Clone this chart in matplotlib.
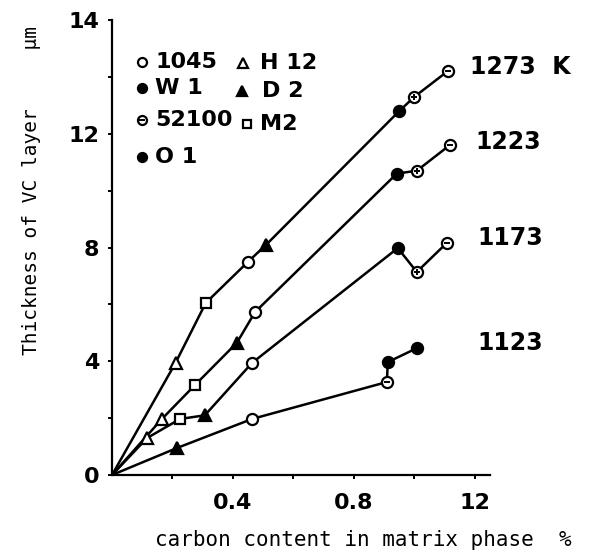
import matplotlib
matplotlib.use("Agg")
import matplotlib.pyplot as plt

# carbon content in matrix phase (%) / thickness of VC layer (um), one list per temperature
steels_1273 = ['H12', 'M2', '1045', 'D2', 'W1', 'O1x', '52100']
x_1273 = [0.21, 0.31, 0.45, 0.51, 0.95, 1.00, 1.11]
y_1273 = [3.94, 6.05, 7.50, 8.10, 12.8, 13.3, 14.2]

steels_1223 = ['H12', 'M2', 'D2', '1045', 'W1', 'O1x', '52100']
x_1223 = [0.165, 0.274, 0.413, 0.473, 0.942, 1.008, 1.117]
y_1223 = [1.97, 3.16, 4.65, 5.73, 10.6, 10.7, 11.6]

steels_1173 = ['H12', 'M2', 'D2', '1045', 'W1', 'O1x', '52100']
x_1173 = [0.116, 0.225, 0.307, 0.463, 0.945, 1.008, 1.107]
y_1173 = [1.30, 1.97, 2.10, 3.94, 7.98, 7.14, 8.16]

steels_1123 = ['D2', '1045', '52100', 'W1', 'O1']
x_1123 = [0.215, 0.463, 0.909, 0.912, 1.010]
y_1123 = [0.95, 1.97, 3.27, 3.97, 4.47]

curves = [('1273  K', steels_1273, x_1273, y_1273),
          ('1223', steels_1223, x_1223, y_1223),
          ('1173', steels_1173, x_1173, y_1173),
          ('1123', steels_1123, x_1123, y_1123)]

legend_rows = [['1045', 'H12'], ['W1', 'D2'], ['52100', 'M2'], ['O1']]
legend_text = {'1045': '1045', 'H12': 'H 12', 'W1': 'W 1', 'D2': 'D 2',
               '52100': '52100', 'M2': 'M2', 'O1': 'O 1'}

# marker style: (marker, face, overlay)
style = {'1045': ('o', 'white', None), 'W1': ('o', 'black', None),
         '52100': ('o', 'white', '_'), 'O1': ('o', 'black', None),
         'O1x': ('o', 'white', '+'), 'H12': ('^', 'white', None),
         'D2': ('^', 'black', None), 'M2': ('s', 'white', None)}

W, H = 589, 554
fig = plt.figure(figsize=(W / 100, H / 100), dpi=100)
L, R, B, T = 112, 490, 475, 20
ax = fig.add_axes([L / W, 1 - B / H, (R - L) / W, (B - T) / H])
ax.set_xlim(0, 1.25)
ax.set_ylim(0, 16.0)


def draw_mark(ax, x, y, kind, ms=8, **kw):
    m, fc, over = style[kind]
    s = ms * 0.95 if m == 's' else ms
    ax.plot([x], [y], marker=m, ms=s, mfc=fc, mec='black', mew=1.6,
            ls='none', zorder=5, clip_on=False, **kw)
    if over:
        ax.plot([x], [y], marker=over, ms=s * 0.6, mec='black', mew=1.4,
                ls='none', zorder=6, clip_on=False, **kw)


for name, steels, xs, ys in curves:
    ax.plot([0] + xs, [0] + ys, color='black', lw=1.8, zorder=3,
            solid_capstyle='round')
    for s, x, y in zip(steels, xs, ys):
        draw_mark(ax, x, y, s)


def px(x, y):
    return (x - L) / (R - L), (B - y) / (B - T)


numfont = dict(family='DejaVu Sans', fontsize=16, fontweight='bold')

# legend
leg_pos = [[(142, 62, 155), (243, 63, 260)],
           [(142, 88, 155), (242, 91, 262)],
           [(142, 120, 155), (247, 124, 260)],
           [(142, 157, 155)]]
for row, prow in zip(legend_rows, leg_pos):
    for key, (mx, my, tx) in zip(row, prow):
        ax_x, ax_y = px(mx, my)
        draw_mark(ax, ax_x, ax_y, key, ms=6.5, transform=ax.transAxes)
        t_x, t_y = px(tx, my)
        ax.text(t_x, t_y, legend_text[key], transform=ax.transAxes,
                ha='left', va='center', **numfont)

# temperature labels
temp_pos = [(470, 67), (475, 142), (477, 238), (477, 343)]
for (name, *_), (tx, ty) in zip(curves, temp_pos):
    fig.text(tx / W, 1 - ty / H, name, ha='left', va='center',
             family='DejaVu Sans', fontsize=17, fontweight='bold')

for sp in ['top', 'right']:
    ax.spines[sp].set_visible(False)
for sp in ['left', 'bottom']:
    ax.spines[sp].set_linewidth(1.6)

ax.set_yticks([0, 2, 4, 6, 8, 10, 12, 14, 16])
ax.set_yticklabels(['0', '', '4', '', '8', '', '12', '', '14'], **numfont)
ax.set_xticks([0.2, 0.4, 0.6, 0.8, 1.0, 1.2])
ax.set_xticklabels(['', '0.4', '', '0.8', '', '12'], **numfont)
ax.tick_params(direction='out', length=3, width=1.4, pad=6)
ax.tick_params(axis='x', pad=10)

fig.text(155 / W, 1 - 540 / H, 'carbon content in matrix phase  %',
         family='DejaVu Sans Mono', fontsize=15, ha='left', va='center')
fig.text(32 / W, 1 - 355 / H, 'Thickness of VC layer     \u03bcm',
         family='DejaVu Sans Mono', fontsize=14, rotation=90,
         ha='center', va='bottom')

fig.savefig('out.png', dpi=100)
